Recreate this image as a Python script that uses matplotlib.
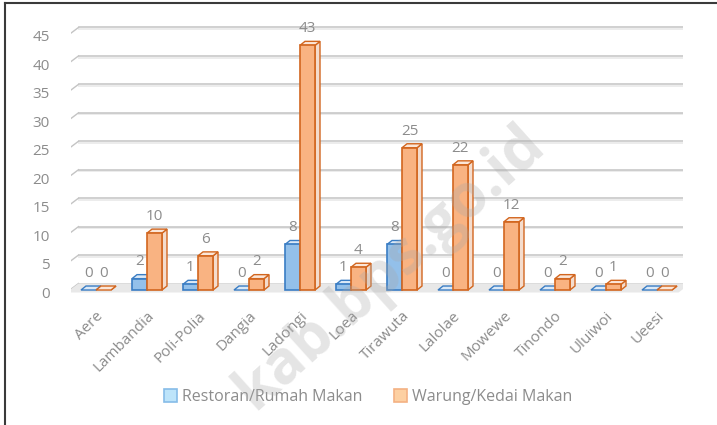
import matplotlib.pyplot as plt
from matplotlib.patches import Polygon, Patch
from matplotlib.lines import Line2D
from matplotlib.transforms import ScaledTranslation

plt.rcParams['font.family'] = ['Open Sans', 'DejaVu Sans']

# data
kecamatan = ['Aere', 'Lambandia', 'Poli-Polia', 'Dangia', 'Ladongi', 'Loea',
             'Tirawuta', 'Lalolae', 'Mowewe', 'Tinondo', 'Uluiwoi', 'Ueesi']
restoran = [0, 2, 1, 0, 8, 1, 8, 0, 0, 0, 0, 0]
warung = [0, 10, 6, 2, 43, 4, 25, 22, 12, 2, 1, 0]
series_names = ['Restoran/Rumah Makan', 'Warung/Kedai Makan']
y_ticks = list(range(0, 50, 5))

TEXT = '#8c8c8c'
W, H, DPI = 717, 425, 100

fig = plt.figure(figsize=(W / DPI, H / DPI), dpi=DPI)
ax = fig.add_axes([70.5 / W, (H - 301.4) / H, 612 / W, (301.4 - 16.9) / H])
n = len(kecamatan)
ax.set_xlim(-0.5, n - 0.5)
ax.set_ylim(-2, 48)
for s in ax.spines.values():
    s.set_visible(False)

# pixel -> data units (dy in screen pixels, positive = down)
px_x = n / 612
px_y = 50 / 284.5


def shift(x, y, dx, dy):
    return x + dx * px_x, y - dy * px_y


front_off = (-4, 2.5)
back_off = (8, -6.5)
x_lo, x_hi = -0.5, n - 0.5

# floor
floor = [shift(x_lo, 0, *front_off), shift(x_hi, 0, *front_off),
         shift(x_hi, 0, *back_off), shift(x_lo, 0, *back_off)]
ax.add_patch(Polygon(floor, closed=True, fc='#e8e8e8', ec='none', zorder=1))

# gridlines on back wall + little diagonal ticks on the left
for v in y_ticks:
    bx0, by = shift(x_lo, v, *back_off)
    bx1, _ = shift(x_hi, v, *back_off)
    ax.plot([bx0, bx1], [by, by], color='#c4c4c4', lw=1.1, zorder=0.5)
    ax.plot([bx0, bx1], [by - 1.6 * px_y] * 2, color='#ececec', lw=1.4, zorder=0.4)
    fx, fy = shift(x_lo, v, *front_off)
    ax.plot([fx, bx0], [fy, by], color='#c4c4c4', lw=1.0, zorder=0.5)

bw = 15 / 51
depth_x, depth_y = 5 * px_x, 4 * px_y


def draw_bar(x0, h, face, side, top, edge, z):
    x1 = x0 + bw
    ax.add_patch(Polygon([(x1, 0), (x1 + depth_x, depth_y), (x1 + depth_x, h + depth_y), (x1, h)],
                         fc=side, ec=edge, lw=1.0, zorder=z))
    ax.add_patch(Polygon([(x0, h), (x1, h), (x1 + depth_x, h + depth_y), (x0 + depth_x, h + depth_y)],
                         fc=top, ec=edge, lw=1.0, zorder=z))
    if h > 0:
        ax.add_patch(Polygon([(x0, 0), (x1, 0), (x1, h), (x0, h)],
                             fc=face, ec=edge, lw=1.2, zorder=z + 0.01))


for i in range(n):
    draw_bar(i - bw, restoran[i], '#93c0ea', '#d3e4f4', '#dbe9f7', '#3a7dc4', 2 + i * 0.1)
    draw_bar(i, warung[i], '#f9b382', '#f4dccd', '#fbe6d8', '#d2661f', 2.05 + i * 0.1)
    for x0, v in ((i - bw, restoran[i]), (i, warung[i])):
        ax.annotate(str(v), (x0 + bw / 2, v), xytext=(0, 12), textcoords='offset points',
                    ha='center', va='center', color=TEXT, fontsize=11, zorder=5)

# axes ticks
ax.set_yticks(y_ticks)
ax.set_yticklabels([str(v) for v in y_ticks])
ax.tick_params(axis='y', length=0, pad=15, labelsize=11, labelcolor=TEXT)
ax.set_xticks(range(n))
ax.set_xticklabels(kecamatan, rotation=45, ha='right', rotation_mode='anchor')
ax.tick_params(axis='x', length=0, pad=5, labelsize=11, labelcolor=TEXT)
for lbl in ax.get_yticklabels():
    lbl.set_transform(lbl.get_transform() + ScaledTranslation(0, -2 / DPI, fig.dpi_scale_trans))

handles = [Patch(fc='#bde4fa', ec='#86bce8', lw=1.2),
           Patch(fc='#fdd0a2', ec='#f4b183', lw=1.2)]
leg = fig.legend(handles, series_names, loc='center', bbox_to_anchor=(368 / W, 1 - 397 / H),
                 ncol=2, frameon=False, fontsize=11.5, handlelength=0.8, handleheight=0.9,
                 handletextpad=0.3, columnspacing=2.0)
for t in leg.get_texts():
    t.set_color(TEXT)

# watermark
fig.text(390 / W, 1 - 268 / H, 'kab.bps.go.id', rotation=42, fontsize=43, fontweight='bold',
         color='#a8a8a8', alpha=0.3, ha='center', va='center', zorder=10)

# frame lines at left and top
fig.add_artist(Line2D([4.5 / W, 4.5 / W], [0, 1 - 2.5 / H], transform=fig.transFigure,
                      color='#3a3a3a', lw=1.5))
fig.add_artist(Line2D([4.5 / W, 1], [1 - 2.5 / H, 1 - 2.5 / H], transform=fig.transFigure,
                      color='#3a3a3a', lw=1.5))

fig.savefig('out.png', dpi=DPI)
